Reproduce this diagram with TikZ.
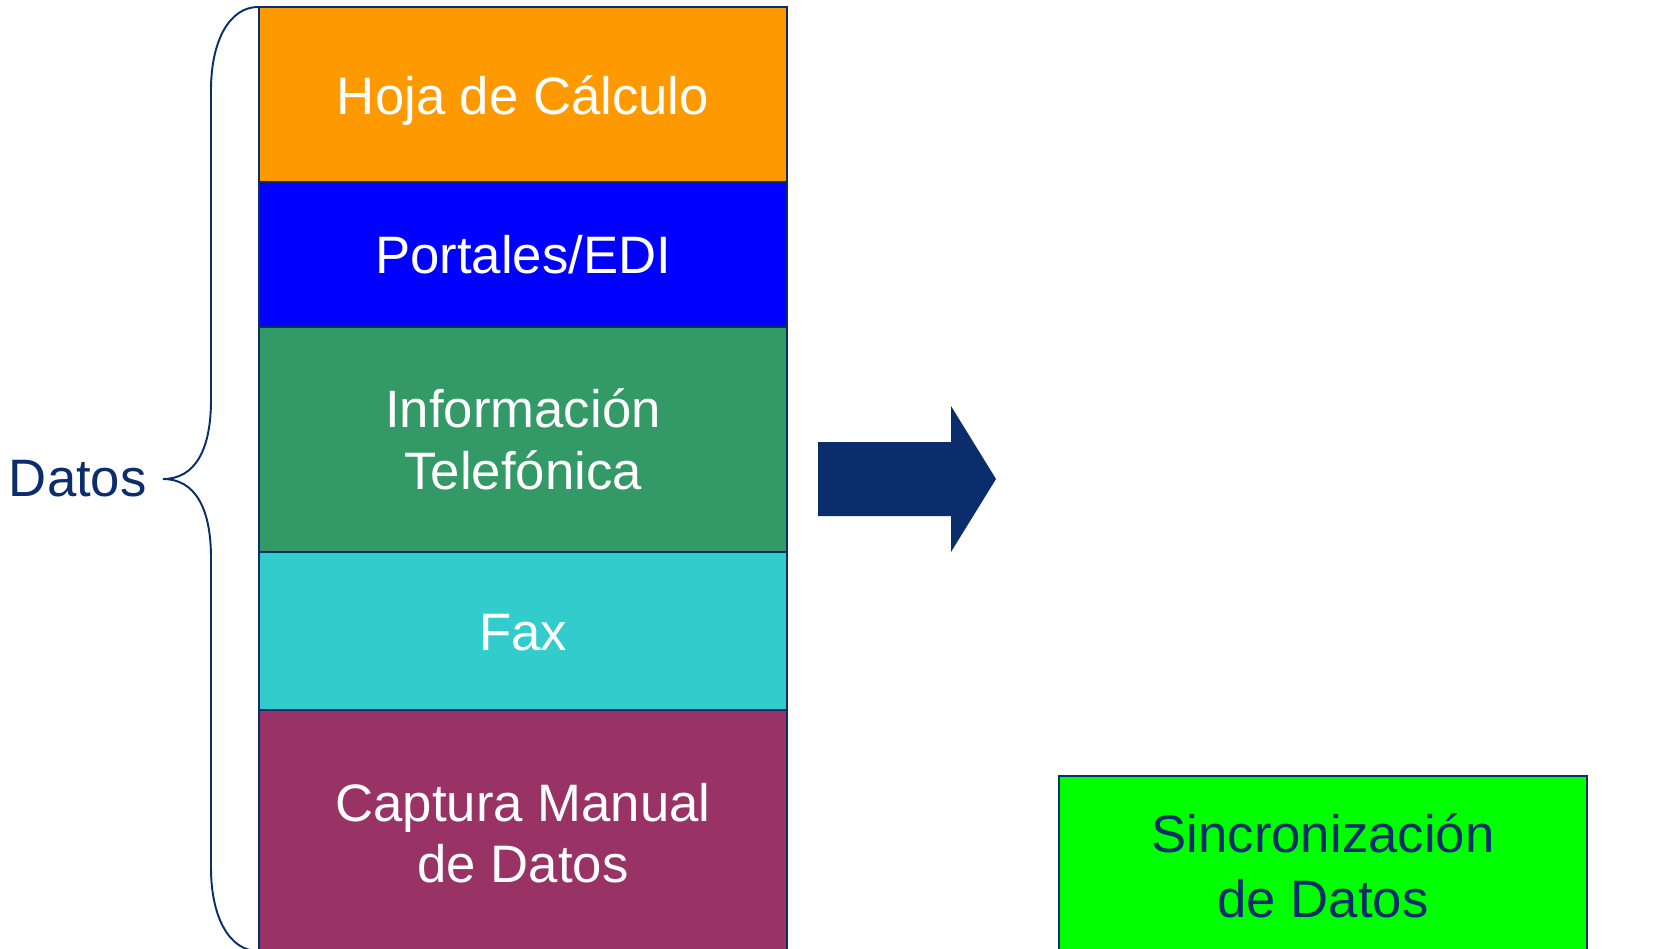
\documentclass[tikz,border=0pt]{standalone}
\usepackage{fontspec}
\setmainfont{Liberation Sans}
\definecolor{navy}{HTML}{0B2D6B}
\definecolor{corange}{HTML}{FF9900}
\definecolor{cblue}{HTML}{0000FF}
\definecolor{cgreen}{HTML}{339966}
\definecolor{ccyan}{HTML}{33CCCC}
\definecolor{cpurple}{HTML}{993366}
\definecolor{cbright}{HTML}{00FF00}
\newcommand{\lowertext}[2]{\raisebox{-#1}[\height][\depth]{#2}}
\tikzset{
  stackbox/.style={draw=navy, line width=0.7pt, minimum width=10.56cm, inner sep=0pt,
    text=white, align=center, font=\fontsize{30}{35}\selectfont},
}
\begin{document}
\begin{tikzpicture}[x=0.02cm,y=-0.02cm]
\useasboundingbox (0,0) rectangle (1680,949);
\clip (0,0) rectangle (1680,949);
\node[stackbox, fill=corange, minimum height=3.5cm] (hoja) at (523,94.5) {\lowertext{3.6pt}{Hoja de Cálculo}};
\node[stackbox, fill=cblue, minimum height=2.9cm] (portales) at (523,254.5) {Portales/EDI};
\node[stackbox, fill=cgreen, minimum height=4.5cm] (info) at (523,439.5) {Información\\Telefónica};
\node[stackbox, fill=ccyan, minimum height=3.16cm] (fax) at (523,631) {\lowertext{1.2pt}{Fax}};
\node[stackbox, fill=cpurple, minimum height=4.92cm] (captura) at (523,833) {Captura Manual\\de Datos};
\node[stackbox, fill=cbright, text=navy, minimum width=10.56cm, minimum height=3.6cm,
  font=\fontsize{30}{37}\selectfont] (sinc) at (1323,866) {Sincronización\\de Datos};
\node[text=navy, font=\fontsize{30}{35}\selectfont, anchor=east, inner sep=0pt] (datos) at (147,479) {Datos};
\coordinate (tip) at (163,479);
\draw[navy, line width=1.1pt] (258,7) .. controls (230,7) and (211,40) .. (211,90) -- (211,400)
  .. controls (211,450) and (195,479) .. (tip)
  .. controls (195,479) and (211,508) .. (211,558) -- (211,868)
  .. controls (211,918) and (230,951) .. (258,951);
\fill[navy] (818,442) -- (951,442) -- (951,406) -- (996,479) -- (951,552) -- (951,516) -- (818,516) -- cycle;
\end{tikzpicture}
\end{document}
